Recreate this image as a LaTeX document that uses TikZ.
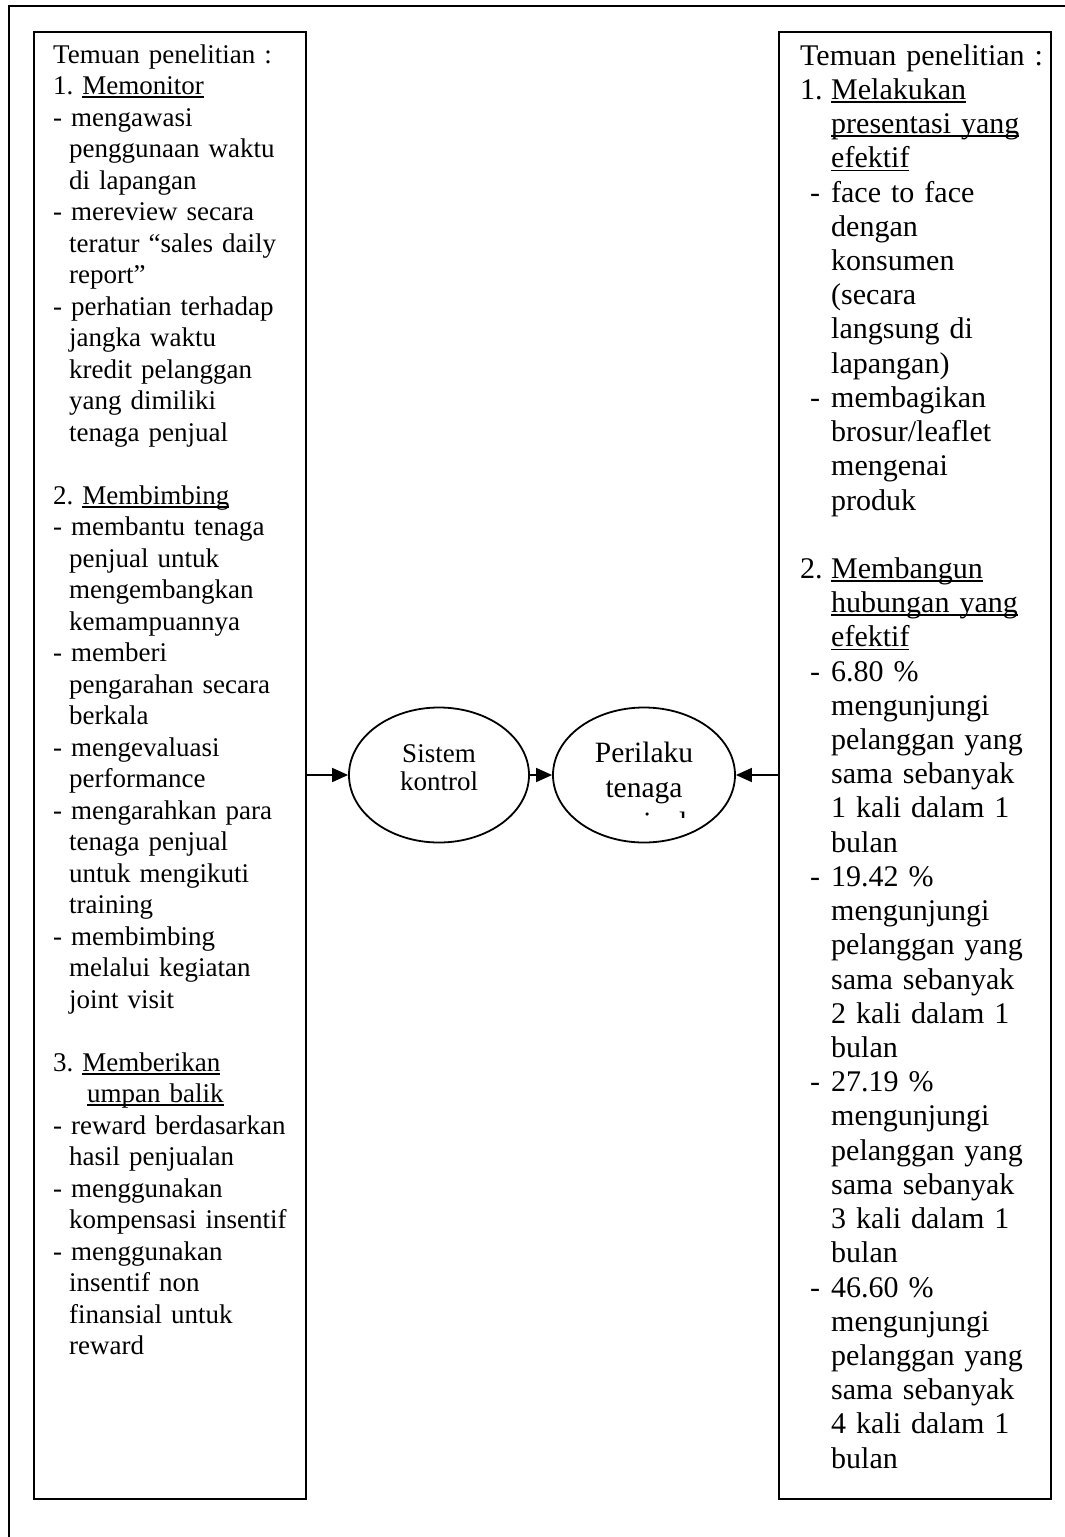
\documentclass[tikz,border=0pt]{standalone}
\usepackage{fontspec}
\setmainfont{Liberation Serif}
\usetikzlibrary{arrows.meta,shapes.geometric}
\frenchspacing

% underline at a fixed depth below the baseline
\newlength\ulw
\newcommand\ulin[1]{\settowidth{\ulw}{#1}\rlap{\rule[-3.5pt]{\ulw}{1.8pt}}#1}
% one typeset line, optionally indented
\newcommand\txl[2][0pt]{\hspace*{#1}#2\par}
\newcommand\blankl{\strut\par}
% numbered and dashed lines of the right-hand list
\newcommand\rnum[1]{\makebox[31pt][l]{#1}}
\newcommand\rdash{\hspace*{10pt}\makebox[21pt][l]{-}}

\tikzset{
  frame/.style={line width=2.4pt},
  panel/.style={draw, line width=2pt, inner sep=0pt, anchor=north west},
  listtext/.style={anchor=north west, inner sep=0pt, text width=420pt, align=left},
  oval/.style={draw, ellipse, line width=1.8pt, inner sep=0pt},
  ovaltext/.style={anchor=base, inner sep=0pt},
  link/.style={line width=1.6pt, -{Triangle[length=16pt, width=14pt]}},
}

\begin{document}
\begin{tikzpicture}[x=1pt, y=-1pt]
\useasboundingbox (0,0) rectangle (1065,1537);

% outer frame (top and left edges)
\draw[frame] (9,1537) -- (9,6) -- (1065,6);

% side panels
\node[panel, minimum width=272pt, minimum height=1467pt] (leftbox) at (33,31) {};
\node[panel, minimum width=272pt, minimum height=1467pt] (rightbox) at (778,31) {};

% left list
\node[listtext, font=\fontsize{27}{31.5}\selectfont] (lefttext) at (53,41) {%
\setlength\parindent{0pt}\setlength\parskip{0pt}%
\txl{\strut Temuan penelitian :}
\txl{1. \ulin{Memonitor}}
\txl{- mengawasi}
\txl[16pt]{penggunaan waktu}
\txl[16pt]{di lapangan}
\txl{- mereview secara}
\txl[16pt]{teratur “sales daily}
\txl[16pt]{report”}
\txl{- perhatian terhadap}
\txl[16pt]{jangka waktu}
\txl[16pt]{kredit pelanggan}
\txl[16pt]{yang dimiliki}
\txl[16pt]{tenaga penjual}
\blankl
\txl{2. \ulin{Membimbing}}
\txl{- membantu tenaga}
\txl[16pt]{penjual untuk}
\txl[16pt]{mengembangkan}
\txl[16pt]{kemampuannya}
\txl{- memberi}
\txl[16pt]{pengarahan secara}
\txl[16pt]{berkala}
\txl{- mengevaluasi}
\txl[16pt]{performance}
\txl{- mengarahkan para}
\txl[16pt]{tenaga penjual}
\txl[16pt]{untuk mengikuti}
\txl[16pt]{training}
\txl{- membimbing}
\txl[16pt]{melalui kegiatan}
\txl[16pt]{joint visit}
\blankl
\txl{3. \ulin{Memberikan}}
\txl[34pt]{\ulin{umpan balik}}
\txl{- reward berdasarkan}
\txl[16pt]{hasil penjualan}
\txl{- menggunakan}
\txl[16pt]{kompensasi insentif}
\txl{- menggunakan}
\txl[16pt]{insentif non}
\txl[16pt]{finansial untuk}
\txl[16pt]{reward}
};

% right list
\node[listtext, font=\fontsize{30}{34.22}\selectfont] (righttext) at (800,41) {%
\setlength\parindent{0pt}\setlength\parskip{0pt}%
\txl{\strut Temuan penelitian :}
\txl{\rnum{1.}\ulin{Melakukan}}
\txl[31pt]{\ulin{presentasi yang}}
\txl[31pt]{\ulin{efektif}}
\txl{\rdash face to face}
\txl[31pt]{dengan}
\txl[31pt]{konsumen}
\txl[31pt]{(secara}
\txl[31pt]{langsung di}
\txl[31pt]{lapangan)}
\txl{\rdash membagikan}
\txl[31pt]{brosur/leaflet}
\txl[31pt]{mengenai}
\txl[31pt]{produk}
\blankl
\txl{\rnum{2.}\ulin{Membangun}}
\txl[31pt]{\ulin{hubungan yang}}
\txl[31pt]{\ulin{efektif}}
\txl{\rdash 6.80 \%}
\txl[31pt]{mengunjungi}
\txl[31pt]{pelanggan yang}
\txl[31pt]{sama sebanyak}
\txl[31pt]{1 kali dalam 1}
\txl[31pt]{bulan}
\txl{\rdash 19.42 \%}
\txl[31pt]{mengunjungi}
\txl[31pt]{pelanggan yang}
\txl[31pt]{sama sebanyak}
\txl[31pt]{2 kali dalam 1}
\txl[31pt]{bulan}
\txl{\rdash 27.19 \%}
\txl[31pt]{mengunjungi}
\txl[31pt]{pelanggan yang}
\txl[31pt]{sama sebanyak}
\txl[31pt]{3 kali dalam 1}
\txl[31pt]{bulan}
\txl{\rdash 46.60 \%}
\txl[31pt]{mengunjungi}
\txl[31pt]{pelanggan yang}
\txl[31pt]{sama sebanyak}
\txl[31pt]{4 kali dalam 1}
\txl[31pt]{bulan}
};

% central ovals
\node[oval, minimum width=180pt, minimum height=135pt] (sistem) at (439,775) {};
\node[oval, minimum width=182pt, minimum height=135pt] (perilaku) at (644,775) {};

\node[ovaltext, font=\fontsize{27}{28}\selectfont] (sis1) at (439,762) {Sistem};
\node[ovaltext, font=\fontsize{27}{28}\selectfont] (sis2) at (439,790) {kontrol};

\begin{scope}
  \clip (553,700) rectangle (735,817);
  \node[ovaltext, font=\fontsize{29.5}{33}\selectfont] (per1) at (644,762) {Perilaku};
  \node[ovaltext, font=\fontsize{29.5}{33}\selectfont] (per2) at (644,797) {tenaga};
  \node[ovaltext, font=\fontsize{29.5}{33}\selectfont] (per3) at (644,832) {penjual};
\end{scope}

% connectors
\draw[link] (leftbox.east |- sistem.west) -- (sistem.west);
\draw[link] (sistem.east) -- (perilaku.west);
\draw[link] (rightbox.west |- perilaku.east) -- (perilaku.east);
\end{tikzpicture}
\end{document}
